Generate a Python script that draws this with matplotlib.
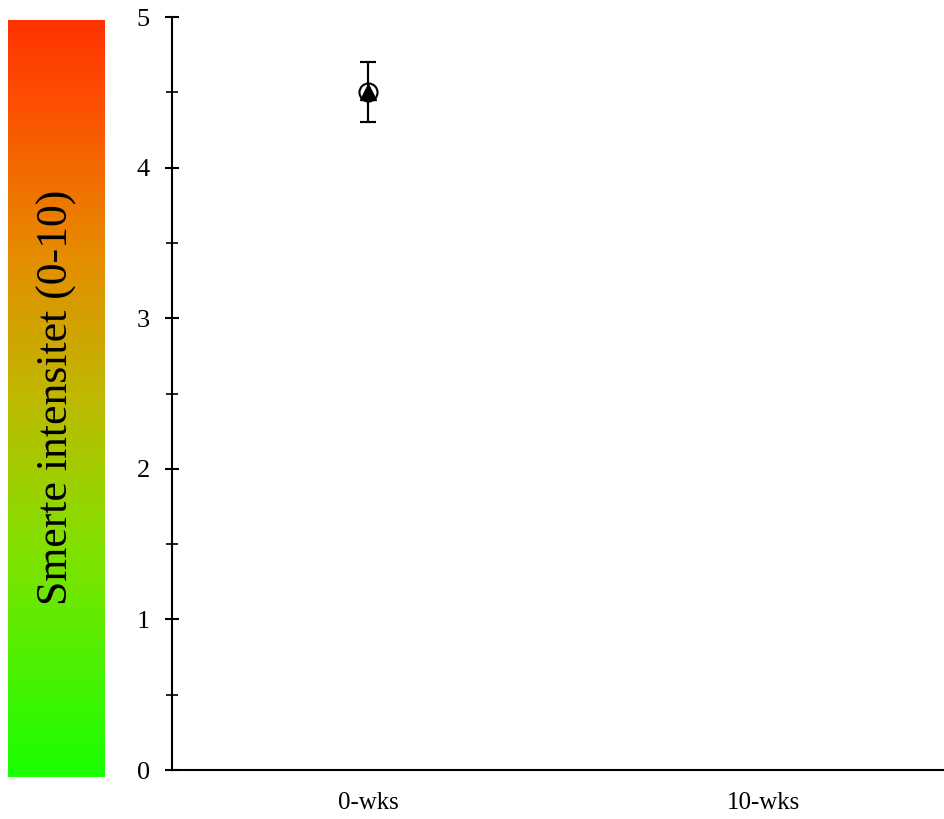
import numpy as np
import matplotlib
matplotlib.use("Agg")
import matplotlib.pyplot as plt
from matplotlib.colors import LinearSegmentedColormap

plt.rcParams['font.family'] = ['Liberation Serif', 'DejaVu Serif']

# data
categories = ["0-wks", "10-wks"]
series_a_mean = [4.5]      # open circles
series_a_err = [0.2]
series_b_mean = [4.5]      # filled triangles
series_b_err = [0.2]
y_label = "Smerte intensitet (0-10)"

fig = plt.figure(figsize=(9.45, 8.19), dpi=100)

# gradient bar behind the y label
gax = fig.add_axes([0.0085, 0.0513, 0.1026, 0.924])
stops = [(0.0, (26/255, 1.0, 0.0)),
         (0.30, (130/255, 225/255, 0.0)),
         (0.5, (190/255, 185/255, 0.0)),
         (0.69, (230/255, 140/255, 0.0)),
         (0.89, (252/255, 80/255, 0.0)),
         (1.0, (1.0, 51/255, 0.0))]
cmap = LinearSegmentedColormap.from_list("pain", stops)
grad = np.linspace(0, 1, 256).reshape(-1, 1)
gax.imshow(grad, aspect="auto", cmap=cmap, origin="lower", extent=[0, 1, 0, 1])
gax.set_axis_off()
gax.text(0.5, 0.502, y_label, rotation=90, ha="center", va="center",
         fontsize=31.5, color="black", transform=gax.transAxes)

ax = fig.add_axes([0.182, 0.0598, 0.818, 0.9194])
x0 = [0]
ax.errorbar(x0, series_a_mean, yerr=series_a_err, fmt="o", mfc="white", mec="black",
            mew=1.5, ms=13, color="black", elinewidth=1.5, capsize=6, capthick=1.5, zorder=3)
ax.errorbar(x0, series_b_mean, yerr=series_b_err, fmt="^", mfc="black", mec="black",
            ms=11, color="black", elinewidth=1.5, capsize=6, capthick=1.5, zorder=4)

ax.set_xlim(-0.496, 1.46)
ax.set_ylim(0, 5)
ax.set_xticks(range(len(categories)))
ax.set_xticklabels(categories)
ax.set_yticks(range(0, 6))
ax.set_yticks(np.arange(0.5, 5, 1), minor=True)

for s in ["top", "right"]:
    ax.spines[s].set_visible(False)
for s in ["left", "bottom"]:
    ax.spines[s].set_linewidth(1.5)

ax.tick_params(axis="y", which="major", direction="inout", length=10, width=1.5,
               labelsize=19, pad=11)
ax.tick_params(axis="y", which="minor", direction="inout", length=8, width=1.2)
ax.tick_params(axis="x", length=0, labelsize=18, pad=16)

fig.savefig("out.png", dpi=100)
